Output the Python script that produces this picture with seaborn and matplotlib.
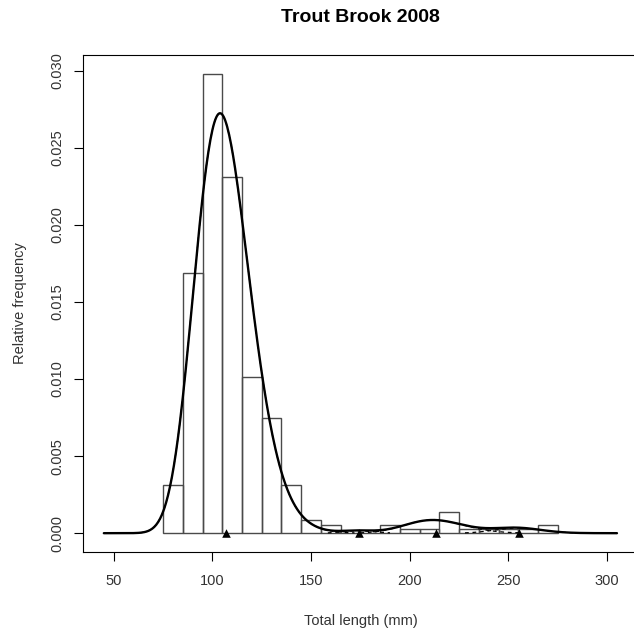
import numpy as np
import pandas as pd
import matplotlib
matplotlib.use("Agg")
import matplotlib.pyplot as plt
import seaborn as sns

# Length-frequency histogram (10 mm bins) as relative frequency per mm
bin_edges = [75, 85, 95, 105, 115, 125, 135, 145, 155, 165, 175,
             185, 195, 205, 215, 225, 235, 245, 255, 265, 275]
rel_freq = [0.0031, 0.0169, 0.0298, 0.0231, 0.0101, 0.0075, 0.0031,
            0.00083, 0.00054, 0.0, 0.0, 0.00054, 0.00026, 0.00026,
            0.00139, 0.00026, 0.00026, 0.00026, 0.00026, 0.00054]

# Fitted age-class components (lognormal, given by mean and sd in mm)
comp_means = [106.7, 174.2, 213.3, 255.4]
comp_sds = [14.3, 8.0, 15.0, 12.0]
comp_props = [0.955, 0.003, 0.032, 0.010]

# Range over which the fitted mixture is drawn
fit_range = (45, 305)


def lognorm_pdf(x, mean, sd):
    s2 = np.log(1.0 + (sd / mean) ** 2)
    mu = np.log(mean) - s2 / 2.0
    return np.exp(-(np.log(x) - mu) ** 2 / (2.0 * s2)) / (x * np.sqrt(2.0 * np.pi * s2))


sns.set_style("ticks")
plt.rcParams["font.family"] = ["Liberation Sans", "DejaVu Sans"]

fig = plt.figure(figsize=(6.34, 6.4), dpi=100)
ax = fig.add_axes([0.1314, 0.138, 0.8741, 0.7756])

edges = np.array(bin_edges, dtype=float)
hist_df = pd.DataFrame({"length": (edges[:-1] + edges[1:]) / 2.0,
                        "freq": rel_freq})
sns.histplot(data=hist_df, x="length", weights="freq", bins=bin_edges,
             stat="count", element="bars", fill=False,
             color="#4a4a4a", linewidth=1.0, ax=ax)

xs = np.linspace(fit_range[0], fit_range[1], 521)
comp_curves = [p * lognorm_pdf(xs, m, s)
               for m, s, p in zip(comp_means, comp_sds, comp_props)]
total = np.sum(comp_curves, axis=0)

# Component densities (dashed), shown only where they rise off zero
for curve in comp_curves:
    visible = np.where(curve > 2e-5, curve, np.nan)
    ax.plot(xs, visible, color="black", linewidth=0.9,
            linestyle=(0, (3, 3)))
sns.lineplot(x=xs, y=total, color="black", linewidth=1.7, ax=ax)

sns.scatterplot(x=comp_means, y=[0.0] * len(comp_means), marker="^",
                color="black", s=38, edgecolor="black", linewidth=0,
                zorder=5, ax=ax)

ax.set_xlim(34.6, 315.4)
ax.set_ylim(-0.0012, 0.031)
ax.set_xticks([50, 100, 150, 200, 250, 300])
ax.set_yticks([0.000, 0.005, 0.010, 0.015, 0.020, 0.025, 0.030])
ax.set_yticklabels(["0.000", "0.005", "0.010", "0.015", "0.020",
                    "0.025", "0.030"], rotation=90, va="center")

for side in ["left", "bottom", "top", "right"]:
    ax.spines[side].set_visible(True)
    ax.spines[side].set_color("black")
    ax.spines[side].set_linewidth(0.8)

ax.tick_params(axis="both", length=6.8, width=0.8, color="black",
               labelsize=10.5, labelcolor="#333333", direction="out")
ax.tick_params(axis="x", pad=9)
ax.tick_params(axis="y", pad=7)

ax.set_xlabel("Total length (mm)", fontsize=10.5, color="#333333")
ax.set_ylabel("Relative frequency", fontsize=10.5, color="#333333")
ax.xaxis.set_label_coords(0.5, -0.1396)
ax.xaxis.label.set_va("center")
ax.yaxis.set_label_coords(-0.114, 0.5)
ax.yaxis.label.set_va("center")

fig.text(0.5689, 1 - 17.7 / 640, "Trout Brook 2008", ha="center",
         va="center", fontsize=14, fontweight="bold", color="black")

fig.patch.set_facecolor("white")
ax.set_facecolor("white")
fig.savefig("out.png", dpi=100, facecolor="white")
